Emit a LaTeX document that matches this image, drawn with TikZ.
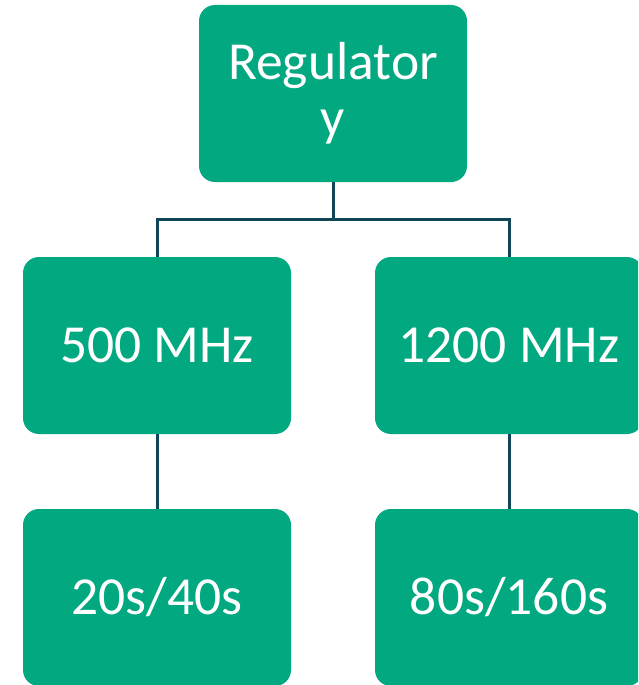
\documentclass[tikz,border=0pt]{standalone}
\usepackage{fontspec}
\setmainfont{Carlito}
\definecolor{boxgreen}{RGB}{2,168,128}
\definecolor{linedark}{RGB}{16,70,85}
\begin{document}
\begin{tikzpicture}[x=1pt,y=-1pt,
  gbox/.style={draw=none,fill=boxgreen,rounded corners=16pt,minimum width=268pt,minimum height=177pt,inner sep=0pt,text=white,align=center,font=\fontsize{53.5}{56}\selectfont},
  conn/.style={draw=linedark,line width=3pt}]
\useasboundingbox (0,0) rectangle (638,685);
\clip (0,0) rectangle (638,685);
\node[gbox] (top) at (333,93.5) {Regulator\\y};
\node[gbox] (m1) at (157,345.5) {500 MHz};
\node[gbox] (m2) at (509,345.5) {1200 MHz};
\node[gbox] (b1) at (157,597.5) {20s/40s};
\node[gbox] (b2) at (509,597.5) {80s/160s};
\coordinate (j) at (333,219);
\draw[conn] (top.south) -- (j);
\draw[conn] (m1.north) |- (j) -| (m2.north);
\draw[conn] (m1.south) -- (b1.north);
\draw[conn] (m2.south) -- (b2.north);
\end{tikzpicture}
\end{document}
